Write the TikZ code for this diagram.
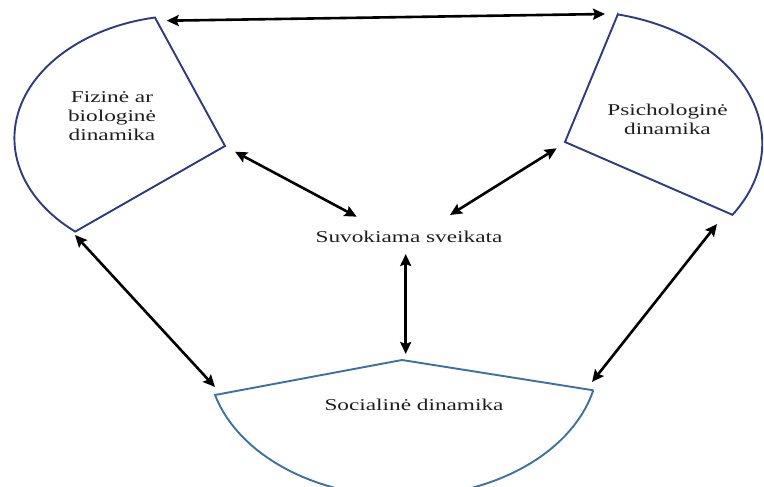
\documentclass[tikz,border=0pt]{standalone}
\usepackage{fontspec}
\setmainfont{Liberation Serif}
\usetikzlibrary{arrows.meta}
\definecolor{navy}{HTML}{2B3B85}
\definecolor{steel}{HTML}{3C72A2}
\definecolor{txt}{HTML}{1E1E1E}
\begin{document}
\begin{tikzpicture}[x=1pt,y=-1pt,
  shapeline/.style={line width=1.9pt, line join=miter},
  lab/.style={font=\fontsize{16.5}{19}\selectfont, text=txt, xscale=1.41, inner sep=0pt, align=center},
  tip/.tip={Stealth[length=12pt,width=11pt,inset=2pt]},
  dbl/.style={line width=2.6pt, tip-tip}]
\clip (0,0) rectangle (764,487);

% Fizine ar biologine dinamika (left sector)
\draw[shapeline, draw=navy] (225,146) -- (75.2,231.6)
  -- plot[domain=130.6:258.9, samples=60, variable=\t] ({188.4+174*cos(\t)}, {138.2+123*sin(\t)}) -- cycle;
% Psichologine dinamika (right sector)
\draw[shapeline, draw=navy] (565,142) -- (617.8,14.4)
  -- plot[domain=-77.1:32.9, samples=60, variable=\t] ({576.3+186*cos(\t)}, {143.1+132*sin(\t)}) -- cycle;
% Socialine dinamika (bottom sector)
\draw[shapeline, draw=steel] (402,360) -- (593.3,390.3)
  -- plot[domain=13.4:164.6, samples=60, variable=\t] ({403.3+195.3*cos(\t)}, {358.2+138.5*sin(\t)}) -- cycle;

% labels
\node[lab] (fiz) at (112,116.5) {Fizinė ar\\biologinė\\dinamika};
\node[lab] (psi) at (667.5,118.9) {Psichologinė\\dinamika};
\node[lab, anchor=base] (suv) at (409,242.7) {Suvokiama sveikata};
\node[lab, anchor=base] (soc) at (414,410.5) {Socialinė dinamika};

% arrow end points
\coordinate (fizT) at (166.7,20.7);
\coordinate (psiT) at (605,14);
\coordinate (fizR) at (235,151.7);
\coordinate (suvL) at (356.7,216.7);
\coordinate (psiL) at (556.7,148.3);
\coordinate (suvR) at (450,215);
\coordinate (suvB) at (405.7,254);
\coordinate (socT) at (405.7,354);
\coordinate (fizB) at (75,235);
\coordinate (socL) at (215,387);
\coordinate (psiB) at (717,224);
\coordinate (socR) at (592,382);

\draw[dbl] (fizT) -- (psiT);
\draw[dbl] (fizR) -- (suvL);
\draw[dbl] (psiL) -- (suvR);
\draw[dbl] (suvB) -- (socT);
\draw[dbl] (fizB) -- (socL);
\draw[dbl] (psiB) -- (socR);
\end{tikzpicture}
\end{document}
